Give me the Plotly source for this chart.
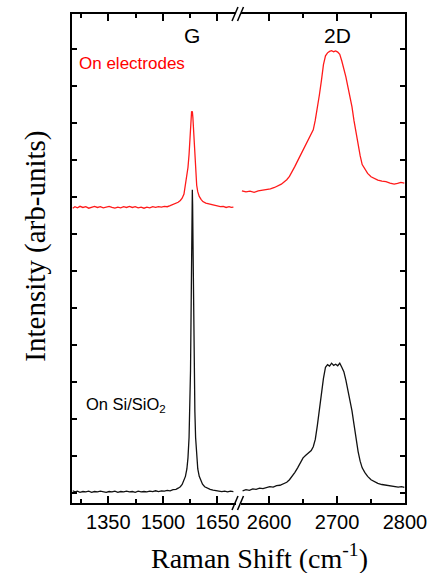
import plotly.graph_objects as go

# ---------------- data ----------------
# G band region, sample on Si/SiO2 (black)
black_g = [
    (1252, 0.06), (1258, 0.03), (1265, 0.05), (1272, 0.02), (1280, 0.04), (1288, 0.03),
    (1296, 0.05), (1304, 0.02), (1312, 0.04), (1320, 0.03), (1328, 0.05), (1336, 0.03),
    (1344, 0.02), (1352, 0.04), (1360, 0.03), (1368, 0.05), (1376, 0.02), (1384, 0.04),
    (1392, 0.03), (1400, 0.05), (1408, 0.03), (1416, 0.04), (1424, 0.02), (1432, 0.05),
    (1440, 0.03), (1448, 0.04), (1456, 0.03), (1464, 0.05), (1472, 0.04), (1480, 0.06),
    (1488, 0.04), (1496, 0.06), (1504, 0.05), (1512, 0.07), (1520, 0.06), (1528, 0.09),
    (1536, 0.10), (1542, 0.13), (1548, 0.17), (1553, 0.23), (1557, 0.33), (1562, 0.45),
    (1566, 0.65), (1569, 0.95), (1572, 1.5), (1574, 2.2), (1576, 3.3), (1577.5, 4.8),
    (1579, 6.6), (1580.2, 7.8), (1581, 8.2), (1581.8, 7.8), (1583, 6.6), (1584.5, 4.8),
    (1586, 3.3), (1588, 2.2), (1590, 1.5), (1593, 0.95), (1596, 0.65), (1600, 0.45),
    (1605, 0.33), (1609, 0.24), (1615, 0.17), (1622, 0.13), (1630, 0.10), (1638, 0.08),
    (1646, 0.06), (1654, 0.05), (1662, 0.04), (1670, 0.05), (1678, 0.03), (1686, 0.05),
    (1694, 0.04),
]
# G band region, sample on electrodes (red)
red_g = [
    (1252, 7.70), (1258, 7.74), (1265, 7.71), (1272, 7.75), (1280, 7.72), (1288, 7.74),
    (1296, 7.70), (1304, 7.73), (1312, 7.75), (1320, 7.72), (1328, 7.74), (1336, 7.71),
    (1344, 7.73), (1352, 7.75), (1360, 7.72), (1368, 7.70), (1376, 7.73), (1384, 7.71),
    (1392, 7.74), (1400, 7.72), (1408, 7.75), (1416, 7.72), (1424, 7.74), (1432, 7.71),
    (1440, 7.73), (1448, 7.70), (1456, 7.73), (1464, 7.71), (1472, 7.74), (1480, 7.72),
    (1488, 7.74), (1496, 7.73), (1504, 7.75), (1512, 7.74), (1520, 7.77), (1528, 7.80),
    (1536, 7.83), (1542, 7.86), (1548, 7.91), (1553, 7.97), (1558, 8.08), (1562, 8.30),
    (1566, 8.55), (1569, 8.80), (1572, 9.15), (1574, 9.55), (1576, 9.95), (1578, 10.25),
    (1579, 10.32), (1580, 10.28), (1581, 10.32), (1582.5, 10.15), (1584, 9.85),
    (1586, 9.40), (1588, 8.95), (1590, 8.60), (1593, 8.32), (1596, 8.14), (1600, 8.02),
    (1605, 7.94), (1610, 7.88), (1618, 7.84), (1626, 7.82), (1634, 7.80), (1642, 7.78),
    (1650, 7.77), (1658, 7.74), (1666, 7.75), (1674, 7.72), (1682, 7.74), (1688, 7.72),
    (1694, 7.73),
]
# 2D band region, on electrodes (red)
red_2d = [
    (2560, 8.17), (2566, 8.14), (2572, 8.16), (2578, 8.13), (2584, 8.17), (2590, 8.18),
    (2596, 8.20), (2602, 8.22), (2608, 8.26), (2613, 8.30), (2618, 8.35), (2622, 8.41),
    (2626, 8.47), (2630, 8.56), (2634, 8.68), (2638, 8.83), (2642, 8.98), (2646, 9.12),
    (2650, 9.26), (2654, 9.40), (2658, 9.54), (2662, 9.68), (2665, 9.82), (2668, 10.08),
    (2671, 10.38), (2674, 10.76), (2677, 11.15), (2680, 11.58), (2683, 11.82),
    (2686, 11.90), (2689, 11.94), (2692, 11.96), (2695, 11.93), (2698, 11.95),
    (2701, 11.92), (2704, 11.86), (2707, 11.68), (2710, 11.48), (2713, 11.25),
    (2716, 10.98), (2719, 10.72), (2722, 10.44), (2725, 10.06), (2728, 9.72),
    (2731, 9.45), (2734, 9.12), (2737, 8.88), (2741, 8.74), (2745, 8.64), (2750, 8.55),
    (2755, 8.50), (2760, 8.46), (2766, 8.43), (2772, 8.42), (2778, 8.38), (2784, 8.35),
    (2789, 8.37), (2794, 8.40), (2799, 8.38),
]
# 2D band region, on Si/SiO2 (black)
black_2d = [
    (2561, 0.06), (2566, 0.09), (2571, 0.07), (2576, 0.11), (2581, 0.10), (2586, 0.13),
    (2591, 0.12), (2596, 0.15), (2601, 0.17), (2606, 0.16), (2611, 0.20), (2616, 0.21),
    (2621, 0.25), (2626, 0.29), (2630, 0.36), (2634, 0.45), (2638, 0.56), (2642, 0.68),
    (2646, 0.82), (2650, 0.95), (2654, 1.02), (2658, 1.09), (2662, 1.15), (2665, 1.25),
    (2668, 1.45), (2671, 1.82), (2674, 2.28), (2677, 2.72), (2680, 3.10), (2683, 3.40),
    (2686, 3.47), (2689, 3.43), (2692, 3.51), (2695, 3.45), (2698, 3.48), (2701, 3.44),
    (2704, 3.51), (2707, 3.40), (2710, 3.28), (2713, 3.05), (2716, 2.80), (2719, 2.52),
    (2722, 2.22), (2725, 1.85), (2728, 1.45), (2731, 1.12), (2734, 0.86), (2737, 0.68),
    (2741, 0.55), (2745, 0.45), (2750, 0.36), (2755, 0.30), (2760, 0.26), (2766, 0.23),
    (2772, 0.21), (2778, 0.19), (2784, 0.18), (2790, 0.16), (2795, 0.17), (2799, 0.15),
]

left_range = [1250, 1708]
right_range = [2555, 2800]
left_ticks = [1350, 1500, 1650]
right_ticks = [2600, 2700, 2800]
y_range = [-0.27, 12.95]

RED = "#ff1a1a"
BLACK = "#111111"
SANS = "Liberation Sans, Arial, sans-serif"
SERIF = "Liberation Serif, Times New Roman, DejaVu Serif, serif"


def xs(pts):
    return [p[0] for p in pts]


def ys(pts):
    return [p[1] for p in pts]


fig = go.Figure()
fig.add_trace(go.Scatter(x=xs(red_g), y=ys(red_g), mode="lines",
                         line=dict(color=RED, width=1.3), xaxis="x", yaxis="y"))
fig.add_trace(go.Scatter(x=xs(black_g), y=ys(black_g), mode="lines",
                         line=dict(color=BLACK, width=1.3), xaxis="x", yaxis="y"))
fig.add_trace(go.Scatter(x=xs(red_2d), y=ys(red_2d), mode="lines",
                         line=dict(color=RED, width=1.3), xaxis="x2", yaxis="y2"))
fig.add_trace(go.Scatter(x=xs(black_2d), y=ys(black_2d), mode="lines",
                         line=dict(color=BLACK, width=1.3), xaxis="x2", yaxis="y2"))

tickfont = dict(family=SANS, size=20, color="black")
common_x = dict(showline=True, linecolor="black", linewidth=2, mirror="ticks",
                ticks="inside", ticklen=7, tickwidth=1.5, tickcolor="black",
                showgrid=False, zeroline=False, tickfont=tickfont)

fig.update_layout(
    width=439, height=573,
    margin=dict(l=72, r=28, t=14, b=70),
    paper_bgcolor="white", plot_bgcolor="white",
    showlegend=False,
    xaxis=dict(domain=[0, 0.5], range=left_range, tickvals=left_ticks,
               minor=dict(tickvals=[1275, 1425, 1575], ticks="inside", ticklen=4,
                          tickwidth=1.5, tickcolor="black"),
               anchor="y", **common_x),
    xaxis2=dict(domain=[0.5, 1], range=right_range, tickvals=right_ticks,
                minor=dict(tickvals=[2650, 2750], ticks="inside", ticklen=4,
                           tickwidth=1.5, tickcolor="black"),
                anchor="y2", **common_x),
    yaxis=dict(range=y_range, dtick=1, tick0=0, showticklabels=False,
               showline=True, linecolor="black", linewidth=2,
               ticks="inside", ticklen=5, tickwidth=1.5, tickcolor="black",
               showgrid=False, zeroline=False, anchor="x", side="left"),
    yaxis2=dict(range=y_range, dtick=1, tick0=0, showticklabels=False,
                showline=True, linecolor="black", linewidth=2,
                ticks="inside", ticklen=5, tickwidth=1.5, tickcolor="black",
                showgrid=False, zeroline=False, anchor="x2", side="right",
                matches="y"),
)

ann_font = dict(family=SANS, size=21, color="black")
fig.add_annotation(x=1580, y=12.38, xref="x", yref="y", text="G", showarrow=False,
                   font=ann_font)
fig.add_annotation(x=2700, y=12.38, xref="x2", yref="y2", text="2D", showarrow=False,
                   font=ann_font)
fig.add_annotation(x=1265, y=11.62, xref="x", yref="y", text="On electrodes",
                   showarrow=False, xanchor="left",
                   font=dict(family=SANS, size=17, color="red"))
fig.add_annotation(x=1284, y=2.38, xref="x", yref="y", text="On Si/SiO<sub>2</sub>",
                   showarrow=False, xanchor="left",
                   font=dict(family=SANS, size=16.5, color="black"))

# axis titles
fig.add_annotation(x=(263 - 72) / 339, y=(503 - 556) / 489, xref="paper", yref="paper",
                   text="Raman Shift (cm<sup>-1</sup>)", showarrow=False,
                   xanchor="center", yanchor="middle",
                   font=dict(family=SERIF, size=28, color="black"))
fig.add_annotation(x=(34 - 72) / 339, y=(503 - 246) / 489, xref="paper", yref="paper",
                   text="Intensity (arb-units)", showarrow=False, textangle=-90,
                   xanchor="center", yanchor="middle",
                   font=dict(family=SERIF, size=29, color="black"))

# axis break marks "//" on top and bottom frame lines
shapes = []
for ya in (0, 1):
    shapes.append(dict(type="rect", xref="paper", yref="paper", layer="above",
                       xsizemode="pixel", ysizemode="pixel", xanchor=0.5, yanchor=ya,
                       x0=-2.5, x1=2.5, y0=-2.5, y1=2.5,
                       fillcolor="white", line=dict(width=0)))
    for dx in (-3.5, 2.0):
        shapes.append(dict(type="line", xref="paper", yref="paper", layer="above",
                           xsizemode="pixel", ysizemode="pixel", xanchor=0.5, yanchor=ya,
                           x0=dx - 3, x1=dx + 3, y0=-7, y1=7,
                           line=dict(color="black", width=1.5)))
fig.update_layout(shapes=shapes)

fig.write_html("out.html")
